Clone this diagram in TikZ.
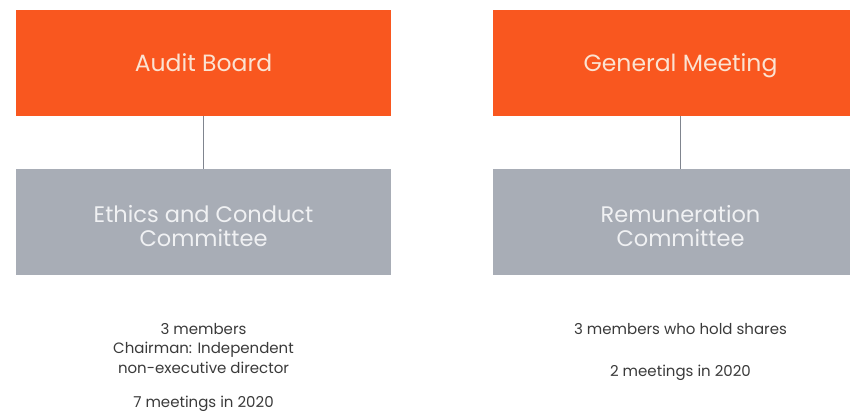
\documentclass[tikz,border=0pt]{standalone}
\usepackage{fontspec}
\setmainfont{Poppins}
\definecolor{boxorange}{HTML}{F9571F}
\definecolor{boxgray}{HTML}{A8ADB6}
\definecolor{orangetext}{HTML}{FBE3D2}
\definecolor{graytext}{HTML}{F0F1F3}
\definecolor{linegray}{HTML}{80858F}
\definecolor{notetext}{HTML}{3A3A3A}
\begin{document}
\begin{tikzpicture}[x=1pt,y=-1pt,
  topbox/.style={fill=boxorange,draw=none,minimum width=375pt,minimum height=106pt,inner sep=0pt,
    text=orangetext,font=\fontsize{23.5}{28}\selectfont,text height=18pt,text depth=2pt},
  combox/.style={fill=boxgray,draw=none,minimum width=375pt,minimum height=106pt,inner sep=0pt,
    text=graytext,align=center,font=\fontsize{22.5}{24}\selectfont,text height=48pt,text depth=0pt},
  note/.style={text=notetext,align=center,font=\fontsize{15}{19.5}\selectfont,anchor=base,inner sep=0pt},
  link/.style={draw=linegray,line width=1.2pt}]
\useasboundingbox (0,0) rectangle (850,413);
\clip (0,0) rectangle (850,413);
\node[topbox] (audit) at (203.5,63) {Audit Board};
\node[topbox] (gm) at (680.5,63) {General Meeting};
\node[combox] (ethics) at (203.5,222) {Ethics and Conduct\\Committee};
\node[combox] (remu) at (680.5,222) {Remuneration\\Committee};
\draw[link] (audit.south) -- (ethics.north);
\draw[link] (gm.south) -- (remu.north);
\node[note] (n1) at (203.5,334) {3 members};
\node[note] (n2) at (203.5,353.5) {Chairman: Independent};
\node[note] (n3) at (203.5,373) {non-executive director};
\node[note] (n4) at (203.5,407.5) {7 meetings in 2020};
\node[note] (r1) at (680.5,334) {3 members who hold shares};
\node[note] (r2) at (680.5,376) {2 meetings in 2020};
\end{tikzpicture}
\end{document}
